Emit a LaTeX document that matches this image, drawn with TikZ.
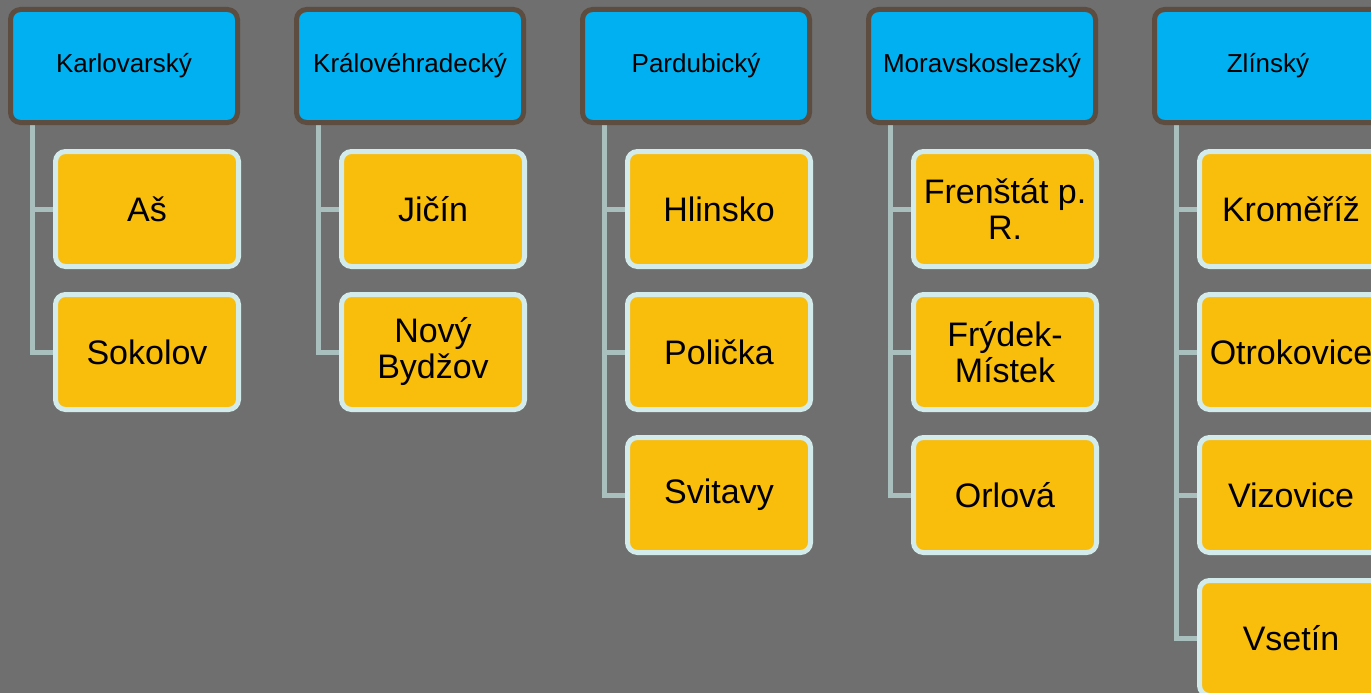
\documentclass[tikz,border=0pt]{standalone}
\usepackage{fontspec}
\setmainfont{Liberation Sans}
\usepackage{tikz}

\definecolor{bggray}{HTML}{6F6F6F}
\definecolor{headblue}{HTML}{00B0F0}
\definecolor{headrim}{HTML}{5C4D40}
\definecolor{townfill}{HTML}{F9BD0C}
\definecolor{townrim}{HTML}{D3EBEA}
\definecolor{linkgray}{HTML}{A8BFBD}

\pgfdeclarelayer{background}
\pgfsetlayers{background,main}

\begin{document}
\begin{tikzpicture}[x=1pt,y=-1pt,
    region/.style={draw=headrim, fill=headblue, line width=5pt, rounded corners=10pt,
      minimum width=227pt, minimum height=113pt, inner sep=0pt,
      font=\fontsize{26}{30}\selectfont},
    town/.style={draw=townrim, fill=townfill, line width=5pt, rounded corners=10pt,
      minimum width=183pt, minimum height=115pt, inner sep=0pt, align=center,
      font=\fontsize{34}{36}\selectfont},
    link/.style={draw=linkgray, line width=5pt}]

      \useasboundingbox (0,0) rectangle (1371,693);
      \clip (0,0) rectangle (1371,693);
      \begin{pgfonlayer}{background}
        \fill[bggray] (0,0) rectangle (1371,693);
      \end{pgfonlayer}

      \node(h1)[region] at (124,66) {Karlovarský};
      \node(h2)[region] at (410,66) {Královéhradecký};
      \node(h3)[region] at (696,66) {Pardubický};
      \node(h4)[region] at (982,66) {Moravskoslezský};
      \node(h5)[region] at (1268,66) {Zlínský};

      \node(t11)[town] at (147,209) {Aš};
      \node(t12)[town] at (147,352) {Sokolov};

      \node(t21)[town] at (433,209) {Jičín};
      \node(t22)[town] at (433,352) {Nový\\Bydžov};

      \node(t31)[town] at (719,209) {Hlinsko};
      \node(t32)[town] at (719,352) {Polička};
      \node(t33)[town] at (719,495) {Svitavy};

      \node(t41)[town] at (1005,209) {Frenštát p.\\R.};
      \node(t42)[town] at (1005,352) {Frýdek-\\Místek};
      \node(t43)[town] at (1005,495) {Orlová};

      \node(t51)[town] at (1291,209) {Kroměříž};
      \node(t52)[town] at (1291,352) {Otrokovice};
      \node(t53)[town] at (1291,495) {Vizovice};
      \node(t54)[town] at (1291,638) {Vsetín};

      \begin{pgfonlayer}{background}
        \draw[link] ([xshift=24pt]h1.south west) |- (t11.west);
        \draw[link] ([xshift=24pt]h1.south west) |- (t12.west);

        \draw[link] ([xshift=24pt]h2.south west) |- (t21.west);
        \draw[link] ([xshift=24pt]h2.south west) |- (t22.west);

        \draw[link] ([xshift=24pt]h3.south west) |- (t31.west);
        \draw[link] ([xshift=24pt]h3.south west) |- (t32.west);
        \draw[link] ([xshift=24pt]h3.south west) |- (t33.west);

        \draw[link] ([xshift=24pt]h4.south west) |- (t41.west);
        \draw[link] ([xshift=24pt]h4.south west) |- (t42.west);
        \draw[link] ([xshift=24pt]h4.south west) |- (t43.west);

        \draw[link] ([xshift=24pt]h5.south west) |- (t51.west);
        \draw[link] ([xshift=24pt]h5.south west) |- (t52.west);
        \draw[link] ([xshift=24pt]h5.south west) |- (t53.west);
        \draw[link] ([xshift=24pt]h5.south west) |- (t54.west);
      \end{pgfonlayer}
     \end{tikzpicture}
\end{document}
